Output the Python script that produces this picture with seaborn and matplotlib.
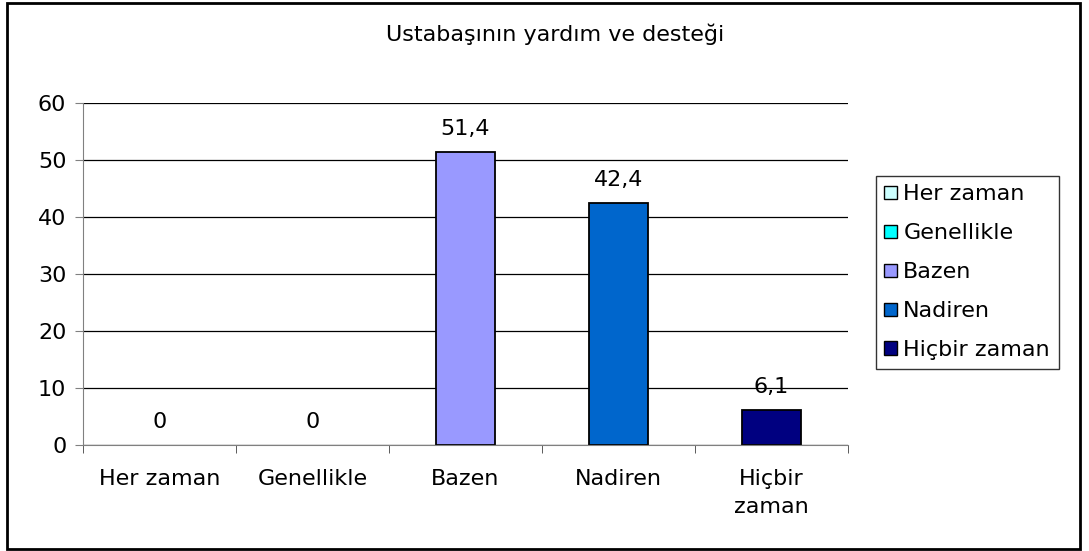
import matplotlib.pyplot as plt
import seaborn as sns
import pandas as pd
from matplotlib.patches import Rectangle

categories = ["Her zaman", "Genellikle", "Bazen", "Nadiren", "Hiçbir zaman"]
tick_labels = ["Her zaman", "Genellikle", "Bazen", "Nadiren", "Hiçbir\nzaman"]
values = [0, 0, 51.4, 42.4, 6.1]
colors = ["#CCFFFF", "#00FFFF", "#9999FF", "#0066CC", "#000080"]

sns.set_style("white")
plt.rcParams["font.family"] = ["DejaVu Sans"]
plt.rcParams["text.color"] = "black"
plt.rcParams["xtick.color"] = "black"
plt.rcParams["ytick.color"] = "black"
FS = 16

df = pd.DataFrame({"cat": categories, "val": values})

fig = plt.figure(figsize=(10.89, 5.51), dpi=100)
ax = fig.add_axes([0.0762, 0.1924, 0.7025, 0.6206])

sns.barplot(data=df, x="cat", y="val", hue="cat", palette=colors, saturation=1,
            dodge=False, width=0.39, edgecolor="black", linewidth=1.3,
            legend=False, ax=ax)
# zero-height bars show nothing in the original
for p in ax.patches:
    if p.get_height() == 0:
        p.set_linewidth(0)

ax.set_ylim(0, 60)
ax.set_xlim(-0.5, 4.5)
ax.set_yticks(range(0, 61, 10))
ax.yaxis.grid(True, color="black", lw=0.9)
ax.set_axisbelow(True)
for s in ["top", "right"]:
    ax.spines[s].set_visible(False)
ax.spines["left"].set_color("#808080")
ax.spines["bottom"].set_color("#808080")
ax.tick_params(axis="y", left=True, length=6, color="#808080", labelsize=FS, pad=6,
               labelcolor="black")
ax.set_xticks(range(5))
ax.set_xticklabels(tick_labels, linespacing=1.5)
ax.tick_params(axis="x", bottom=False, labelsize=FS, pad=14, labelcolor="black")
ax.set_xticks([i + 0.5 for i in range(-1, 5)], minor=True)
ax.tick_params(axis="x", which="minor", bottom=True, length=6, color="#404040")
ax.set_xlabel("")
ax.set_ylabel("")

for i, v in enumerate(values):
    ax.text(i, v + 2.3, f"{v:g}".replace(".", ","), ha="center", va="bottom", fontsize=FS)

fig.text(0.51, 0.937, "Ustabaşının yardım ve desteği", ha="center", va="center", fontsize=FS)

handles = [Rectangle((0, 0), 1, 1, facecolor=c, edgecolor="black", lw=1) for c in colors]
leg = fig.legend(handles, categories, loc="center left", bbox_to_anchor=(0.804, 0.506),
                 fontsize=FS, frameon=True, fancybox=False, edgecolor="black",
                 handlelength=0.55, handleheight=0.55, handletextpad=0.3,
                 labelspacing=0.85, borderpad=0.4, borderaxespad=0)
for t in leg.get_texts():
    t.set_color("black")

fig.patches.append(Rectangle((0.006, 0.004), 0.986, 0.99, transform=fig.transFigure,
                             fill=False, edgecolor="black", lw=2))

fig.savefig("out.png", dpi=100)
